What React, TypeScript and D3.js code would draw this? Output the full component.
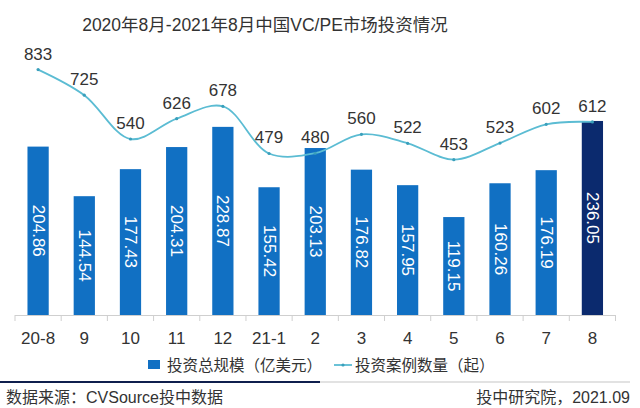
import React from "react";
import * as d3 from "d3";

const categories = ["20-8", "9", "10", "11", "12", "21-1", "2", "3", "4", "5", "6", "7", "8"];
const amountValues = [204.86, 144.54, 177.43, 204.31, 228.87, 155.42, 203.13, 176.82, 157.95, 119.15, 160.26, 176.19, 236.05];
const caseValues = [833, 725, 540, 626, 678, 479, 480, 560, 522, 453, 523, 602, 612];
const titleText = "2020年8月-2021年8月中国VC/PE市场投资情况";
const legendBar = "投资总规模（亿美元）";
const legendLine = "投资案例数量（起）";
const sourceText = "数据来源：CVSource投中数据";
const creditText = "投中研究院，2021.09";

const W = 640;
const H = 408;
const FONT = "'Liberation Sans', Arial, 'Noto Sans CJK SC', sans-serif";
const BAR = "#1170c3";
const BAR_LAST = "#0b2a6e";
const LINE = "#5bbcd3";
const TEXT = "#333333";

export default function App() {
  const x = d3.scaleBand<string>().domain(categories).range([15, 615.5]).paddingInner(0.54).paddingOuter(0.27);
  const step = x.step();
  const yBar = d3.scaleLinear().domain([0, 250]).range([315, 109.5]);
  const yLine = d3.scaleLinear().domain([0, 1000]).range([267, 30]);
  const cx = (c: string) => (x(c) as number) + x.bandwidth() / 2;

  const pts: [number, number][] = categories.map((c, i) => [cx(c), yLine(caseValues[i])]);
  const linePath = d3.line().curve(d3.curveCatmullRom.alpha(0.5))(pts) || "";

  const tickXs = d3.range(categories.length + 1).map((i) => 15 + i * step);

  return (
    <div style={{ position: "fixed", left: 0, top: 0, width: W, height: H, background: "#fff" }}>
      <svg width={W} height={H} style={{ display: "block", fontFamily: FONT }}>
        <rect width={W} height={H} fill="#fff" />
        <text x={265} y={31} textAnchor="middle" fontSize={17.5} fill={TEXT}>
          {titleText}
        </text>

        {/* axis */}
        <line x1={15} x2={615.5} y1={315.5} y2={315.5} stroke="#cfcfcf" strokeWidth={1} />
        {tickXs.map((t, i) => (
          <line key={"t" + i} x1={t} x2={t} y1={315} y2={321} stroke="#cfcfcf" strokeWidth={1} />
        ))}

        {/* bars */}
        {categories.map((c, i) => (
          <rect
            key={"b" + c}
            x={x(c)}
            y={yBar(amountValues[i])}
            width={x.bandwidth()}
            height={yBar(0) - yBar(amountValues[i])}
            fill={i === categories.length - 1 ? BAR_LAST : BAR}
          />
        ))}
        {categories.map((c, i) => {
          const ymid = (yBar(amountValues[i]) + yBar(0)) / 2;
          return (
            <text
              key={"bl" + c}
              transform={`translate(${cx(c)},${ymid}) rotate(90)`}
              textAnchor="middle"
              dominantBaseline="central"
              fontSize={17}
              fill="#ffffff"
            >
              {amountValues[i].toFixed(2)}
            </text>
          );
        })}

        {/* line */}
        <path d={linePath} fill="none" stroke={LINE} strokeWidth={1.8} />
        {pts.map((p, i) => (
          <circle key={"p" + i} cx={p[0]} cy={p[1]} r={1.6} fill="#3a9fbb" />
        ))}
        {pts.map((p, i) => (
          <text key={"pl" + i} x={p[0]} y={p[1] - 10} textAnchor="middle" fontSize={17} fill={TEXT}>
            {caseValues[i]}
          </text>
        ))}

        {/* category labels */}
        {categories.map((c) => (
          <text key={"c" + c} x={cx(c)} y={344} textAnchor="middle" fontSize={17} fill={TEXT}>
            {c}
          </text>
        ))}

        {/* legend */}
        <rect x={148} y={360} width={12} height={9} fill={BAR} />
        <text x={167} y={370.5} fontSize={15.5} fill={TEXT}>
          {legendBar}
        </text>
        <line x1={334} x2={352} y1={365} y2={365} stroke={LINE} strokeWidth={1.8} />
        <circle cx={343} cy={365} r={1.6} fill="#3a9fbb" />
        <text x={355} y={370.5} fontSize={15.5} fill={TEXT}>
          {legendLine}
        </text>

        {/* footer rule */}
        <line x1={320} x2={630} y1={382} y2={382} stroke="#e2e2e2" strokeWidth={2} />
        <line x1={0} x2={320} y1={382} y2={382} stroke="#0f1f4d" strokeWidth={2.2} />
        <text x={6} y={403} fontSize={16} fill={TEXT}>
          {sourceText}
        </text>
        <text x={630} y={403} textAnchor="end" fontSize={16} fill={TEXT}>
          {creditText}
        </text>
      </svg>
    </div>
  );
}
